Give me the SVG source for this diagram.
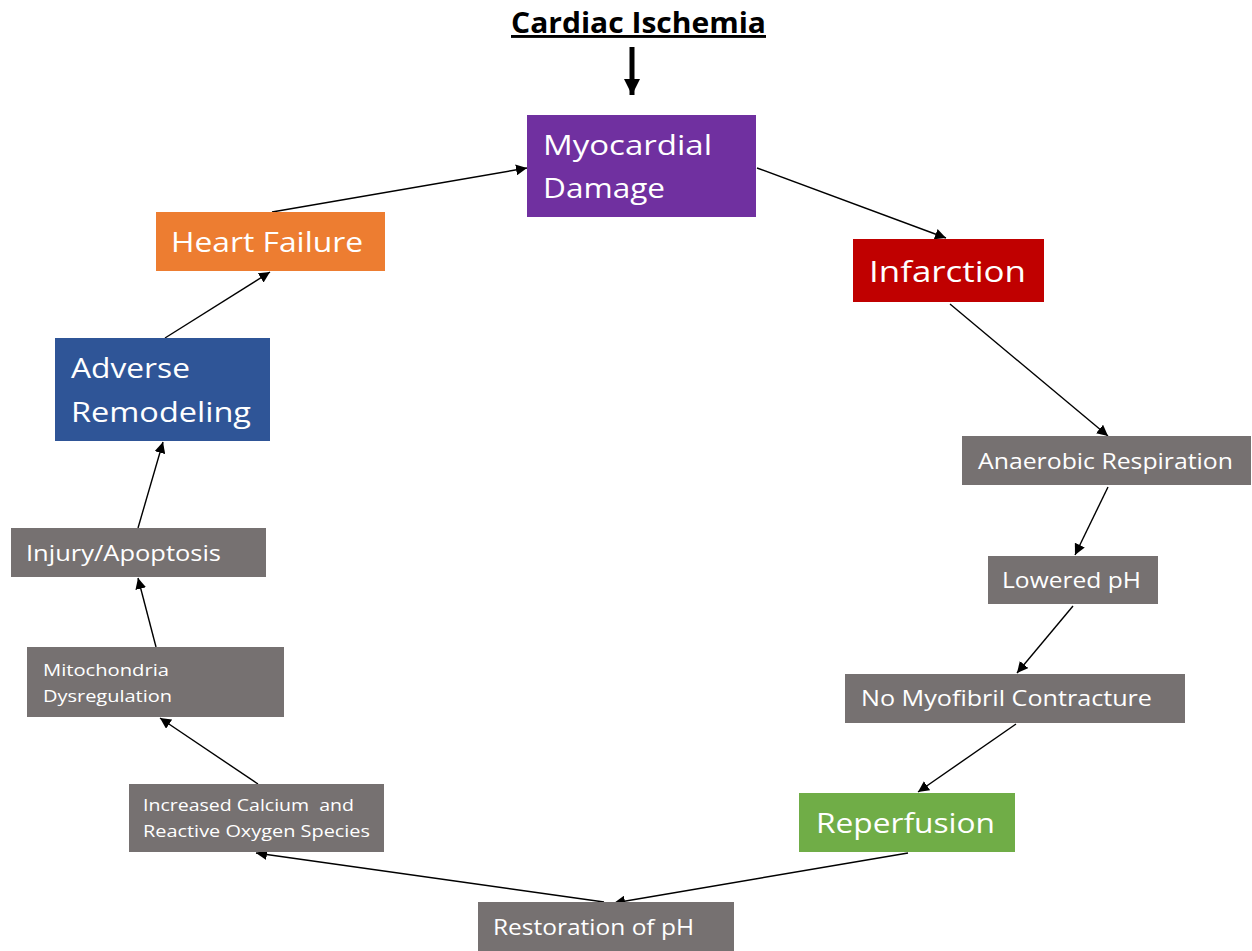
<svg xmlns="http://www.w3.org/2000/svg" width="1252" height="951" viewBox="0 0 1252 951">
<defs>
<style>
text{font-family:"Open Sans","Liberation Sans",sans-serif;fill:#fff}
.big{font-size:28px}
.mid{font-size:21px}
.sm{font-size:16px}
.title{font-size:29px;font-weight:bold;fill:#000;text-decoration:underline}
.gray{fill:#767171}
.conn line{stroke:#000;stroke-width:1.4;marker-end:url(#ah)}
</style>
<marker id="ah" viewBox="0 0 10 10" refX="10" refY="5" markerWidth="11" markerHeight="11" markerUnits="userSpaceOnUse" orient="auto">
<path d="M0,0 L10,5 L0,10 z" fill="#000"/>
</marker>
<marker id="ahb" viewBox="0 0 10 10" refX="10" refY="5" markerWidth="16" markerHeight="16" markerUnits="userSpaceOnUse" orient="auto">
<path d="M0,0 L10,5 L0,10 z" fill="#000"/>
</marker>
</defs>
<rect width="1252" height="951" fill="#fff"/>
<g id="title">
<text class="title" x="511" y="33" textLength="255" lengthAdjust="spacingAndGlyphs">Cardiac Ischemia</text>
<line x1="632" y1="47" x2="632" y2="95" stroke="#000" stroke-width="5" marker-end="url(#ahb)"/>
</g>
<g class="conn" id="connectors">
<line x1="272" y1="212" x2="527" y2="168"/>
<line x1="757" y1="168" x2="946" y2="238"/>
<line x1="950" y1="304" x2="1108" y2="436"/>
<line x1="1108" y1="487" x2="1075" y2="555"/>
<line x1="1073" y1="606" x2="1017" y2="673"/>
<line x1="1016" y1="724" x2="918" y2="792"/>
<line x1="908" y1="853" x2="614" y2="903"/>
<line x1="604" y1="902" x2="256" y2="853"/>
<line x1="258" y1="784" x2="160" y2="718"/>
<line x1="156" y1="647" x2="138" y2="578"/>
<line x1="138" y1="528" x2="163" y2="442"/>
<line x1="165" y1="338" x2="270" y2="272"/>
</g>
<g id="myocardial">
<rect x="527" y="115" width="229" height="102" fill="#7030A0"/>
<text class="big" x="543" y="155" textLength="169" lengthAdjust="spacingAndGlyphs">Myocardial</text>
<text class="big" x="543" y="198" textLength="122" lengthAdjust="spacingAndGlyphs">Damage</text>
</g>
<g id="infarction">
<rect x="853" y="239" width="191" height="63" fill="#C00000"/>
<text class="big" x="869" y="282" style="font-size:30px" textLength="157" lengthAdjust="spacingAndGlyphs">Infarction</text>
</g>
<g id="heart-failure">
<rect x="156" y="212" width="229" height="59" fill="#ED7D31"/>
<text class="big" x="171" y="252" textLength="192" lengthAdjust="spacingAndGlyphs">Heart Failure</text>
</g>
<g id="adverse">
<rect x="55" y="338" width="215" height="103" fill="#2F5597"/>
<text class="big" x="71" y="378" textLength="119" lengthAdjust="spacingAndGlyphs">Adverse</text>
<text class="big" x="71" y="422" textLength="180" lengthAdjust="spacingAndGlyphs">Remodeling</text>
</g>
<g id="anaerobic">
<rect class="gray" x="962" y="436" width="289" height="49"/>
<text class="mid" x="978" y="469" textLength="255" lengthAdjust="spacingAndGlyphs">Anaerobic Respiration</text>
</g>
<g id="lowered-ph">
<rect class="gray" x="988" y="556" width="170" height="48"/>
<text class="mid" x="1002" y="588" textLength="139" lengthAdjust="spacingAndGlyphs">Lowered pH</text>
</g>
<g id="no-myofibril">
<rect class="gray" x="845" y="674" width="340" height="49"/>
<text class="mid" x="861" y="706" textLength="291" lengthAdjust="spacingAndGlyphs">No Myofibril Contracture</text>
</g>
<g id="reperfusion">
<rect x="799" y="793" width="216" height="59" fill="#70AD47"/>
<text class="big" x="816" y="833" textLength="179" lengthAdjust="spacingAndGlyphs">Reperfusion</text>
</g>
<g id="restoration">
<rect class="gray" x="478" y="902" width="256" height="49"/>
<text class="mid" x="493" y="935" textLength="201" lengthAdjust="spacingAndGlyphs">Restoration of pH</text>
</g>
<g id="calcium">
<rect class="gray" x="129" y="784" width="255" height="68"/>
<text class="sm" x="143" y="811" textLength="211" lengthAdjust="spacingAndGlyphs" xml:space="preserve">Increased Calcium  and</text>
<text class="sm" x="143" y="837" textLength="227" lengthAdjust="spacingAndGlyphs">Reactive Oxygen Species</text>
</g>
<g id="mitochondria">
<rect class="gray" x="27" y="647" width="257" height="70"/>
<text class="sm" x="43" y="676" textLength="126" lengthAdjust="spacingAndGlyphs">Mitochondria</text>
<text class="sm" x="43" y="702" textLength="129" lengthAdjust="spacingAndGlyphs">Dysregulation</text>
</g>
<g id="injury">
<rect class="gray" x="11" y="528" width="255" height="49"/>
<text class="mid" x="26" y="561" textLength="195" lengthAdjust="spacingAndGlyphs">Injury/Apoptosis</text>
</g>
</svg>
